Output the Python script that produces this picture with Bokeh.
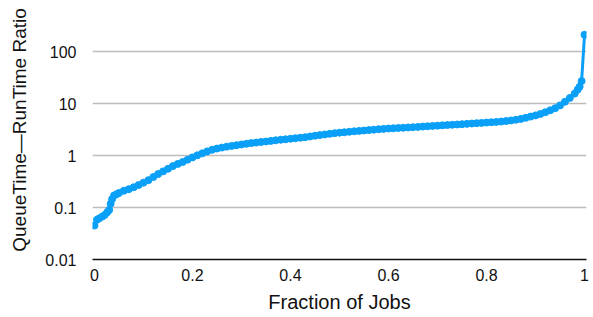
from bokeh.plotting import figure
from bokeh.models import Range1d, FixedTicker, CustomJSTickFormatter
from bokeh.embed import file_html
from bokeh.resources import INLINE

# Data
fraction = [0.000, 0.005, 0.010, 0.016, 0.021, 0.026, 0.030, 0.033, 0.036, 0.040,
            0.045, 0.050, 0.060, 0.070, 0.080, 0.090, 0.100, 0.110, 0.120, 0.130,
            0.140, 0.150, 0.160, 0.170, 0.180, 0.190, 0.200, 0.210, 0.220, 0.230,
            0.240, 0.250, 0.260, 0.270, 0.280, 0.290, 0.300, 0.310, 0.320, 0.330,
            0.340, 0.350, 0.360, 0.370, 0.380, 0.390, 0.400, 0.410, 0.420, 0.430,
            0.440, 0.450, 0.460, 0.470, 0.480, 0.490, 0.500, 0.510, 0.520, 0.530,
            0.540, 0.550, 0.560, 0.570, 0.580, 0.590, 0.600, 0.610, 0.620, 0.630,
            0.640, 0.650, 0.660, 0.670, 0.680, 0.690, 0.700, 0.710, 0.720, 0.730,
            0.740, 0.750, 0.760, 0.770, 0.780, 0.790, 0.800, 0.810, 0.820, 0.830,
            0.840, 0.850, 0.860, 0.870, 0.880, 0.890, 0.900, 0.910, 0.920, 0.930,
            0.940, 0.950, 0.960, 0.970, 0.980, 0.986, 0.990, 0.994, 1.000]
ratio = [0.045, 0.058, 0.062, 0.067, 0.072, 0.081, 0.090, 0.118, 0.145, 0.170,
         0.180, 0.190, 0.210, 0.225, 0.245, 0.270, 0.300, 0.335, 0.385, 0.440,
         0.495, 0.555, 0.625, 0.690, 0.750, 0.830, 0.920, 1.01, 1.10, 1.20,
         1.29, 1.36, 1.42, 1.48, 1.53, 1.58, 1.63, 1.68, 1.73, 1.77,
         1.82, 1.86, 1.91, 1.96, 2.01, 2.05, 2.10, 2.15, 2.20, 2.25,
         2.32, 2.40, 2.47, 2.54, 2.61, 2.68, 2.75, 2.80, 2.86, 2.92,
         2.97, 3.02, 3.08, 3.14, 3.20, 3.25, 3.30, 3.34, 3.38, 3.42,
         3.46, 3.50, 3.55, 3.60, 3.65, 3.70, 3.75, 3.80, 3.85, 3.90,
         3.95, 4.00, 4.06, 4.12, 4.18, 4.24, 4.30, 4.36, 4.42, 4.50,
         4.60, 4.72, 4.88, 5.05, 5.30, 5.60, 5.90, 6.30, 6.80, 7.40,
         8.10, 9.20, 10.8, 12.8, 15.5, 18.5, 21.0, 27.0, 210.0]

x_ticks = [0, 0.2, 0.4, 0.6, 0.8, 1]
y_ticks = [0.01, 0.1, 1, 10, 100]

FONT = "Liberation Sans"
BLUE = "#0aa0f8"

p = figure(width=593, height=317, y_axis_type="log",
           x_range=Range1d(-0.004, 1.004), y_range=Range1d(0.01, 957),
           output_backend="svg", toolbar_location=None,
           min_border_left=92, min_border_right=7, min_border_top=0,
           min_border_bottom=58)
p.outline_line_color = None
p.background_fill_color = "white"
p.border_fill_color = "white"

fmt = CustomJSTickFormatter(code="return String(tick);")

# x axis
xa = p.xaxis[0]
xa.ticker = FixedTicker(ticks=x_ticks)
xa.formatter = fmt
xa.axis_line_color = "#111111"
xa.axis_line_width = 1.6
xa.major_tick_line_color = None
xa.minor_tick_line_color = None
xa.major_tick_out = 0
xa.major_tick_in = 0
xa.minor_tick_out = 0
xa.minor_tick_in = 0
xa.major_label_text_font = FONT
xa.major_label_text_font_size = "16px"
xa.major_label_text_color = "#111111"
xa.major_label_standoff = 9
xa.axis_label = "Fraction of Jobs"
xa.axis_label_text_font = FONT
xa.axis_label_text_font_size = "20px"
xa.axis_label_text_font_style = "normal"
xa.axis_label_text_color = "#111111"
xa.axis_label_standoff = 7

# y axis
ya = p.yaxis[0]
ya.ticker = FixedTicker(ticks=y_ticks)
ya.formatter = fmt
ya.axis_line_color = None
ya.major_tick_line_color = None
ya.minor_tick_line_color = None
ya.major_tick_out = 0
ya.major_tick_in = 0
ya.minor_tick_out = 0
ya.minor_tick_in = 0
ya.major_label_text_font = FONT
ya.major_label_text_font_size = "16px"
ya.major_label_text_color = "#111111"
ya.major_label_standoff = 16
ya.axis_label = "QueueTime\u2014RunTime Ratio"
ya.axis_label_text_font = FONT
ya.axis_label_text_font_size = "19px"
ya.axis_label_text_font_style = "normal"
ya.axis_label_text_color = "#111111"
ya.axis_label_standoff = 12

p.xgrid.grid_line_color = None
p.ygrid.ticker = FixedTicker(ticks=y_ticks)
p.ygrid.grid_line_color = "#bdbdbd"
p.ygrid.grid_line_width = 1.5
p.ygrid.minor_grid_line_color = None

p.line(fraction, ratio, line_color=BLUE, line_width=3)
p.scatter(fraction, ratio, size=7, fill_color=BLUE, line_color=BLUE)

open("out.html", "w").write(file_html(p, INLINE))
